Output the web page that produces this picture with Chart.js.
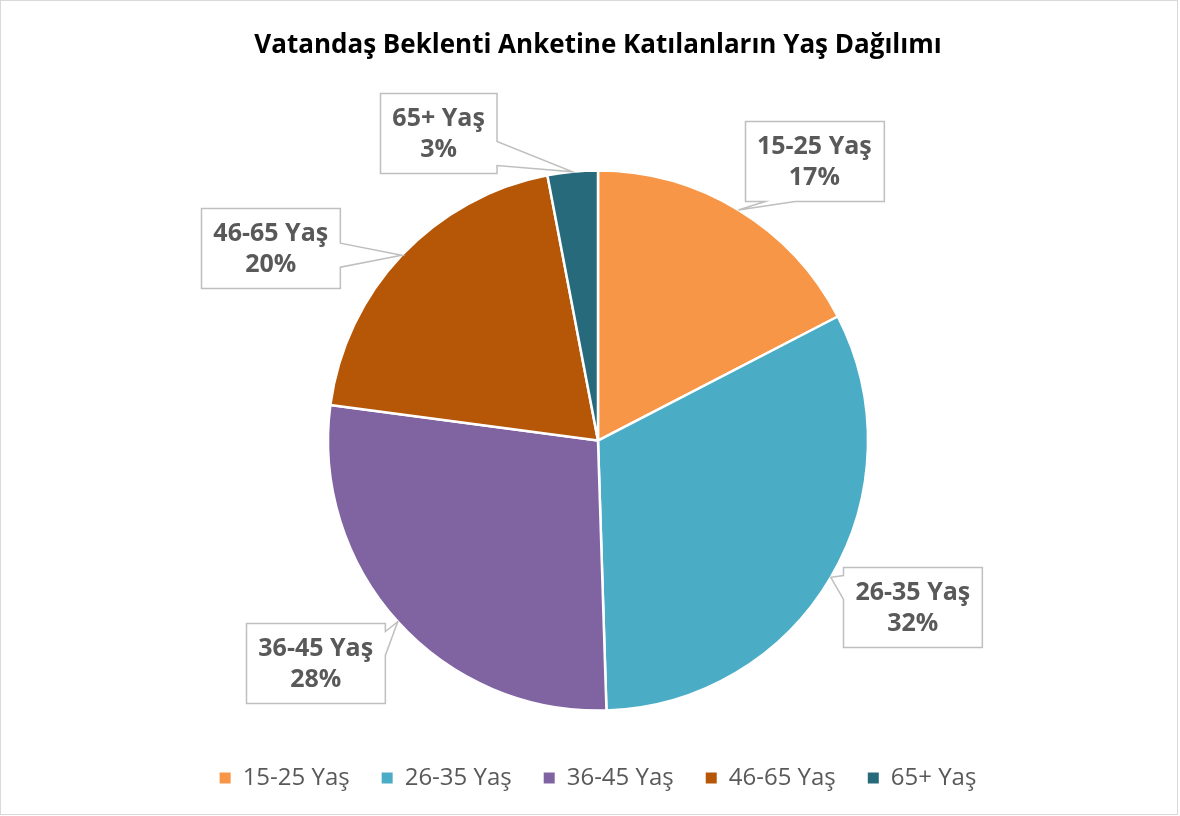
<!DOCTYPE html>
<html lang="tr">
<head>
<meta charset="utf-8">
<title>Vatandaş Beklenti Anketi - Yaş Dağılımı</title>
<script src="https://cdn.jsdelivr.net/npm/chart.js@4/dist/chart.umd.min.js"></script>
<style>
    html, body { margin: 0; padding: 0; background: #ffffff; }
    #wrap { width: 1180px; height: 816px; }
</style>
</head>
<body>
<div id="wrap"><canvas id="yasChart" width="1180" height="816"></canvas></div>
<script>
// ============================================================================
// DATA
// ============================================================================

const categories = ['15-25 Yaş', '26-35 Yaş', '36-45 Yaş', '46-65 Yaş', '65+ Yaş'];
const shares = [17.4, 32.1, 27.6, 19.9, 3.0];
const sliceColors = ['#F79646', '#4BACC6', '#8064A2', '#B65708', '#276A7C'];

// callout box centre, relative to the slice's outer mid point
const labelOffsets = [[76, -49], [82, 30], [-82, 41], [-131, -7], [-134, -39]];

const FONT = '"Open Sans", "DejaVu Sans", sans-serif';

// ============================================================================
// PLUGINS
// ============================================================================

const frame = {
    id: 'frame',
    beforeDraw(chart) {
        const ctx = chart.ctx;
        ctx.save();
        ctx.fillStyle = '#ffffff';
        ctx.fillRect(0, 0, chart.width, chart.height);
        ctx.strokeStyle = '#D9D9D9';
        ctx.lineWidth = 1;
        ctx.strokeRect(0.5, 0.5, chart.width - 3, chart.height - 2);
        ctx.restore();
    }
};

function calloutPath(ctx, x0, y0, x1, y1, tx, ty) {
    const w = x1 - x0, h = y1 - y0;
    const ox = tx < x0 ? x0 - tx : (tx > x1 ? tx - x1 : 0);
    const oy = ty < y0 ? y0 - ty : (ty > y1 ? ty - y1 : 0);
    let side;
    if (ox / w > oy / h) side = tx < x0 ? 'left' : 'right';
    else side = ty < y0 ? 'top' : 'bottom';

    function base(a, b, p) {
        const len = b - a;
        const c = Math.max(a + 0.25 * len, Math.min(b - 0.25 * len, p));
        const hw = Math.min(15, 0.15 * len);
        return [c - hw, c + hw];
    }

    ctx.beginPath();
    ctx.moveTo(x0, y0);
    if (side === 'top') {
        const [a, b] = base(x0, x1, tx);
        ctx.lineTo(a, y0); ctx.lineTo(tx, ty); ctx.lineTo(b, y0);
    }
    ctx.lineTo(x1, y0);
    if (side === 'right') {
        const [a, b] = base(y0, y1, ty);
        ctx.lineTo(x1, a); ctx.lineTo(tx, ty); ctx.lineTo(x1, b);
    }
    ctx.lineTo(x1, y1);
    if (side === 'bottom') {
        const [a, b] = base(x0, x1, tx);
        ctx.lineTo(b, y1); ctx.lineTo(tx, ty); ctx.lineTo(a, y1);
    }
    ctx.lineTo(x0, y1);
    if (side === 'left') {
        const [a, b] = base(y0, y1, ty);
        ctx.lineTo(x0, b); ctx.lineTo(tx, ty); ctx.lineTo(x0, a);
    }
    ctx.closePath();
}

const callouts = {
    id: 'callouts',
    afterDatasetsDraw(chart) {
        const ctx = chart.ctx;
        const meta = chart.getDatasetMeta(0);
        const total = shares.reduce((s, v) => s + v, 0);

        meta.data.forEach((arc, i) => {
            const mid = (arc.startAngle + arc.endAngle) / 2;
            const tx = arc.x + Math.cos(mid) * arc.outerRadius;
            const ty = arc.y + Math.sin(mid) * arc.outerRadius;
            const cx = tx + labelOffsets[i][0];
            const cy = ty + labelOffsets[i][1];

            const line1 = categories[i];
            const line2 = Math.round(shares[i] / total * 100) + '%';

            ctx.save();
            ctx.font = 'bold 25px ' + FONT;
            const tw = Math.max(ctx.measureText(line1).width, ctx.measureText(line2).width);
            const bw = tw + 24, bh = 80;
            const x0 = Math.round(cx - bw / 2) + 0.5, y0 = Math.round(cy - bh / 2) + 0.5;

            calloutPath(ctx, x0, y0, x0 + bw, y0 + bh, tx, ty);
            ctx.fillStyle = '#ffffff';
            ctx.fill();
            ctx.strokeStyle = '#BFBFBF';
            ctx.lineWidth = 1.5;
            ctx.stroke();

            ctx.fillStyle = '#595959';
            ctx.textAlign = 'center';
            ctx.textBaseline = 'middle';
            ctx.fillText(line1, cx, y0 + 25);
            ctx.fillText(line2, cx, y0 + 56);
            ctx.restore();
        });
    }
};

// ============================================================================
// CHART
// ============================================================================

const yasChart = new Chart(document.getElementById('yasChart'), {
    type: 'pie',
    data: {
        labels: categories,
        datasets: [{
            data: shares,
            backgroundColor: sliceColors,
            borderColor: '#ffffff',
            borderWidth: 2.5,
            radius: 270
        }]
    },
    options: {
        responsive: false,
        animation: false,
        layout: {
            padding: { left: 16, right: 0, top: 0, bottom: 16 }
        },
        plugins: {
            title: {
                display: true,
                text: 'Vatandaş Beklenti Anketine Katılanların Yaş Dağılımı',
                color: '#000000',
                font: { family: FONT, size: 26, weight: 'bold' },
                padding: { top: 30, bottom: 86 }
            },
            legend: {
                display: true,
                position: 'bottom',
                labels: {
                    color: '#595959',
                    font: { family: FONT, size: 24 },
                    boxWidth: 11,
                    boxHeight: 11,
                    padding: 32,
                    generateLabels: function(chart) {
                        return Chart.overrides.pie.plugins.legend.labels.generateLabels(chart)
                            .map(item => Object.assign(item, { lineWidth: 0 }));
                    }
                }
            },
            tooltip: { enabled: false }
        }
    },
    plugins: [frame, callouts]
});
</script>
</body>
</html>
